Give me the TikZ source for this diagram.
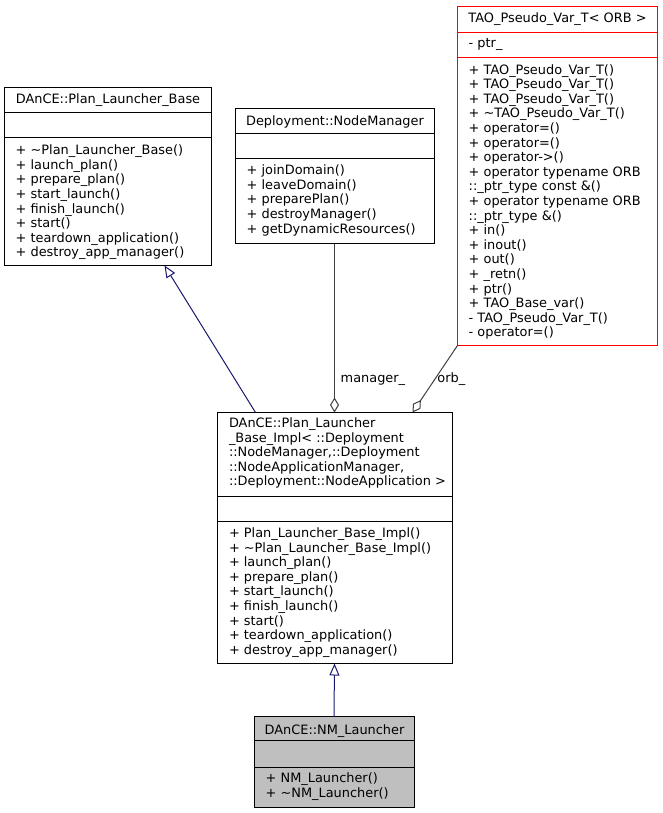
\documentclass[tikz,border=0pt]{standalone}
\usepackage{fontspec}
\setmainfont{DejaVu Sans}
\usetikzlibrary{arrows.meta}
\definecolor{inhcol}{HTML}{191970}
\definecolor{aggcol}{HTML}{404040}
\definecolor{grayfill}{HTML}{BFBFBF}
\definecolor{redline}{HTML}{FF0000}
\newcommand\dfont{\fontsize{12.9}{14.6}\selectfont}
\newcommand\firstln{\rule{0pt}{11pt}}
\begin{document}
\begin{tikzpicture}[x=1pt,y=-1pt,
  box/.style={draw=black, line width=1pt, fill=white, inner sep=0pt, outer sep=0pt, anchor=north west},
  sepline/.style={draw=black, line width=1pt},
  redbox/.style={draw=redline, line width=1.4pt},
  ttl/.style={font=\dfont, inner sep=0pt, anchor=base},
  mem/.style={font=\dfont, inner sep=0pt, align=left, anchor=north west},
  lbl/.style={font=\dfont, inner sep=0pt, anchor=base west},
  inh/.style={draw=inhcol, line width=1pt, -{Triangle[open,length=12pt,width=10pt]}},
  agg/.style={draw=aggcol, line width=1pt, -{Diamond[open,length=15pt,width=9pt]}}
]
\useasboundingbox (0,0) rectangle (663,813);
\begin{scope}[shift={(0.5,0.5)}]
% Box 1: DAnCE::Plan_Launcher_Base
\node[box, minimum width=207pt, minimum height=178pt] (b1) at (4,87) {};
\draw[sepline] (4,112) -- (211,112);
\draw[sepline] (4,137) -- (211,137);
\node[ttl] (b1t) at (107.5,103.5) {DAnCE::Plan\_Launcher\_Base};
\node[mem] (b1m) at (15,143) {\firstln+ \textasciitilde Plan\_Launcher\_Base()\\
+ launch\_plan()\\
+ prepare\_plan()\\
+ start\_launch()\\
+ finish\_launch()\\
+ start()\\
+ teardown\_application()\\
+ destroy\_app\_manager()};

% Box 2: Deployment::NodeManager
\node[box, minimum width=199pt, minimum height=135pt] (b2) at (235,108) {};
\draw[sepline] (235,133) -- (434,133);
\draw[sepline] (235,158) -- (434,158);
\node[ttl] (b2t) at (334.5,125) {Deployment::NodeManager};
\node[mem] (b2m) at (246,163) {\firstln+ joinDomain()\\
+ leaveDomain()\\
+ preparePlan()\\
+ destroyManager()\\
+ getDynamicResources()};

% Box 3: TAO_Pseudo_Var_T< ORB >
\node[box, redbox, minimum width=200pt, minimum height=339pt] (b3) at (457,6) {};
\draw[redbox] (457,32) -- (657,32);
\draw[redbox] (457,57) -- (657,57);
\node[ttl] (b3t) at (557,22.5) {TAO\_Pseudo\_Var\_T< ORB >};
\node[mem] (b3a) at (468,35.7) {\firstln- ptr\_};
\node[mem] (b3m) at (468,62.3) {\firstln+ TAO\_Pseudo\_Var\_T()\\
+ TAO\_Pseudo\_Var\_T()\\
+ TAO\_Pseudo\_Var\_T()\\
+ \textasciitilde TAO\_Pseudo\_Var\_T()\\
+ operator=()\\
+ operator=()\\
+ operator->()\\
+ operator typename ORB\\
::\_ptr\_type const \&()\\
+ operator typename ORB\\
::\_ptr\_type \&()\\
+ in()\\
+ inout()\\
+ out()\\
+ \_retn()\\
+ ptr()\\
+ TAO\_Base\_var()\\
- TAO\_Pseudo\_Var\_T()\\
- operator=()};

% Box 4: DAnCE::Plan_Launcher_Base_Impl<...>
\node[box, minimum width=235pt, minimum height=251pt] (b4) at (217,412) {};
\draw[sepline] (217,496) -- (452,496);
\draw[sepline] (217,521) -- (452,521);
\node[mem] (b4t) at (228.3,415.7) {\firstln DAnCE::Plan\_Launcher\\
\_Base\_Impl< ::Deployment\\
::NodeManager,::Deployment\\
::NodeApplicationManager,\\
::Deployment::NodeApplication >};
\node[mem] (b4m) at (228.3,525.7) {\firstln+ Plan\_Launcher\_Base\_Impl()\\
+ \textasciitilde Plan\_Launcher\_Base\_Impl()\\
+ launch\_plan()\\
+ prepare\_plan()\\
+ start\_launch()\\
+ finish\_launch()\\
+ start()\\
+ teardown\_application()\\
+ destroy\_app\_manager()};

% Box 5: DAnCE::NM_Launcher
\node[box, fill=grayfill, minimum width=160pt, minimum height=91pt] (b5) at (254,716) {};
\draw[sepline] (254,740) -- (414,740);
\draw[sepline] (254,767) -- (414,767);
\node[ttl] (b5t) at (334,734) {DAnCE::NM\_Launcher};
\node[mem] (b5m) at (265,770.7) {\firstln+ NM\_Launcher()\\
+ \textasciitilde NM\_Launcher()};

% Connectors
\draw[inh] ([xshift=38pt]b4.north west) -- ([xshift=160pt]b1.south west);
\draw[inh] ([xshift=-0.5pt]b5.north) -- ([xshift=-0.5pt]b4.south);
\draw[agg] ([xshift=-0.5pt]b2.south) -- ([xshift=-0.5pt]b4.north);
\draw[agg] (b3.south west) -- ([xshift=-40pt]b4.north east);

% Labels
\node[lbl] (lm) at (340,381.7) {manager\_};
\node[lbl] (lo) at (436.7,381.7) {orb\_};
\end{scope}
\end{tikzpicture}
\end{document}
